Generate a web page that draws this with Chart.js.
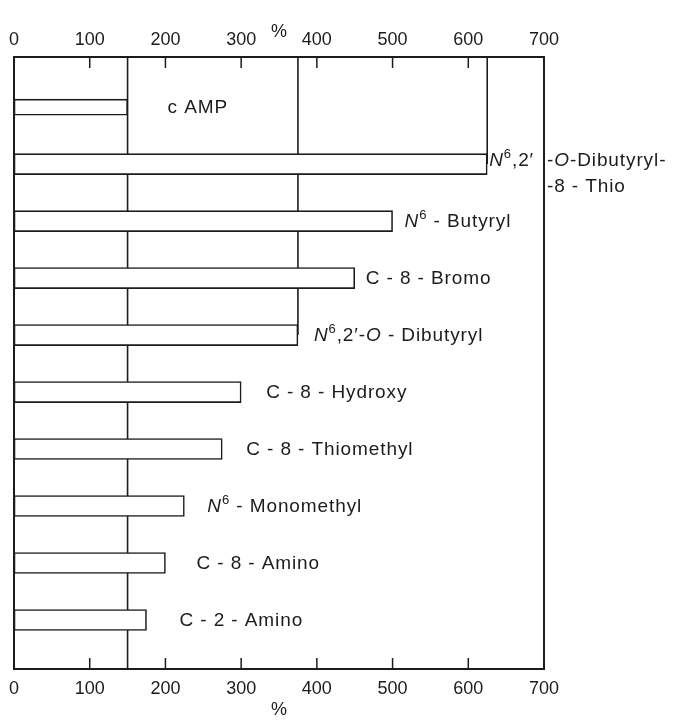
<!DOCTYPE html>
<html>
<head>
<meta charset="utf-8">
<script src="https://cdn.jsdelivr.net/npm/chart.js@4.4.1/dist/chart.umd.min.js"></script>
<style>
  html, body { margin: 0; padding: 0; background: #fff; }
  #wrap { width: 675px; height: 721px; position: relative; }
</style>
</head>
<body>
<div id="wrap"><canvas id="chart"></canvas></div>
<script>
// *x* = italic, ^x^ = superscript, | = continue past the frame, \n = second line
const categories = [
  'c AMP',
  '*N*^6^,2′|-*O*-Dibutyryl-\n-8 - Thio',
  '*N*^6^ - Butyryl',
  'C - 8 - Bromo',
  '*N*^6^,2′-*O* - Dibutyryl',
  'C - 8 - Hydroxy',
  'C - 8 - Thiomethyl',
  '*N*^6^ - Monomethyl',
  'C - 8 - Amino',
  'C - 2 - Amino',
]
const values = [150, 625, 500, 450, 375, 300, 275, 225, 200, 175]
const tickValues = [0, 100, 200, 300, 400, 500, 600, 700]
const refLines = [150, 375, 625]
const refLineStop = [null, 4, 1]   // row where the line meets a bar (null = full height)

const INK = '#1c1c1c'
const FONT = '"Liberation Sans", Arial, sans-serif'
const labelGap = [40, 2, 12, 11, 16, 25, 24, 23, 31, 33]

function parseLabel(str) {
  const parts = []
  let cur = '', italic = false, sup = false
  for (const ch of str) {
    if (ch === '*' || ch === '^') {
      if (cur) parts.push({ t: cur, italic, sup })
      cur = ''
      if (ch === '*') italic = !italic
      else sup = !sup
    } else cur += ch
  }
  if (cur) parts.push({ t: cur, italic, sup })
  return parts
}

function drawRich(ctx, str, x, y) {
  for (const p of parseLabel(str)) {
    ctx.font = `${p.italic ? 'italic ' : ''}${p.sup ? 13 : 19}px ${FONT}`
    ctx.fillText(p.t, x, p.sup ? y - 7 : y)
    x += ctx.measureText(p.t).width
  }
  return x
}

const framePlugin = {
  id: 'frame',
  beforeDatasetsDraw(chart) {
    const { ctx, chartArea: a, scales: { x, y } } = chart
    ctx.save()
    ctx.strokeStyle = INK
    ctx.lineWidth = 1.6
    refLines.forEach((v, i) => {
      const px = x.getPixelForValue(v)
      const end = refLineStop[i] == null ? a.bottom : y.getPixelForValue(refLineStop[i])
      ctx.beginPath(); ctx.moveTo(px, a.top); ctx.lineTo(px, end); ctx.stroke()
    })
    ctx.restore()
  },
  afterDatasetsDraw(chart) {
    const { ctx, chartArea: a, scales: { x, y } } = chart
    ctx.save()
    ctx.strokeStyle = INK
    ctx.lineWidth = 2
    ctx.strokeRect(a.left, a.top, a.right - a.left, a.bottom - a.top)

    // inward tick marks, top and bottom
    ctx.lineWidth = 1.5
    tickValues.slice(1, -1).forEach(v => {
      const px = x.getPixelForValue(v)
      ctx.beginPath()
      ctx.moveTo(px, a.top); ctx.lineTo(px, a.top + 11)
      ctx.moveTo(px, a.bottom); ctx.lineTo(px, a.bottom - 11)
      ctx.stroke()
    })

    // bar labels
    ctx.fillStyle = INK
    ctx.textBaseline = 'middle'
    ctx.letterSpacing = '0.9px'
    categories.forEach((lab, i) => {
      const lines = lab.split('\n')
      const px = x.getPixelForValue(values[i]) + labelGap[i]
      const py = y.getPixelForValue(i)
      if (lines.length === 1) {
        drawRich(ctx, lines[0], px, py + 1)
      } else {
        const [head, tail] = lines[0].split('|')
        drawRich(ctx, head, px, py - 3)
        drawRich(ctx, tail, a.right + 3, py - 3)
        drawRich(ctx, lines[1], a.right + 3, py + 23)
      }
    })
    ctx.restore()
  }
}

const axisFont = { family: FONT, size: 18 }

function xAxis(position, height) {
  return {
    type: 'linear',
    position,
    min: 0, max: 700,
    afterBuildTicks: s => { s.ticks = tickValues.map(v => ({ value: v })) },
    afterFit: s => { s.height = height },
    grid: { display: false, drawTicks: false },
    border: { display: false },
    ticks: { color: INK, font: axisFont, padding: position === 'top' ? 6 : 9, maxRotation: 0 },
    title: {
      display: true, text: '%', color: INK, font: axisFont,
      padding: position === 'top' ? { top: 21, bottom: 0 } : { top: 0, bottom: 0 },
    },
  }
}

new Chart(document.getElementById('chart'), {
  type: 'bar',
  data: {
    datasets: [
      {
        data: [{ x: values[0], y: 0 }],
        barThickness: 16,
      },
      {
        data: values.slice(1).map((v, i) => ({ x: v, y: i + 1 })),
        barThickness: 21,
      },
    ],
  },
  options: {
    indexAxis: 'y',
    responsive: true,
    maintainAspectRatio: false,
    animation: false,
    grouped: false,
    backgroundColor: '#fff',
    borderColor: INK,
    borderWidth: 1.6,
    borderSkipped: false,
    layout: { padding: { left: 14, right: 131, top: 0, bottom: 0 } },
    plugins: { legend: { display: false }, tooltip: { enabled: false } },
    scales: {
      x: xAxis('bottom', 52),
      xTop: xAxis('top', 57),
      y: {
        type: 'linear', reverse: true, offset: false,
        min: -0.88, max: 9.86, display: false,
      },
    },
  },
  plugins: [framePlugin],
})
</script>
</body>
</html>
